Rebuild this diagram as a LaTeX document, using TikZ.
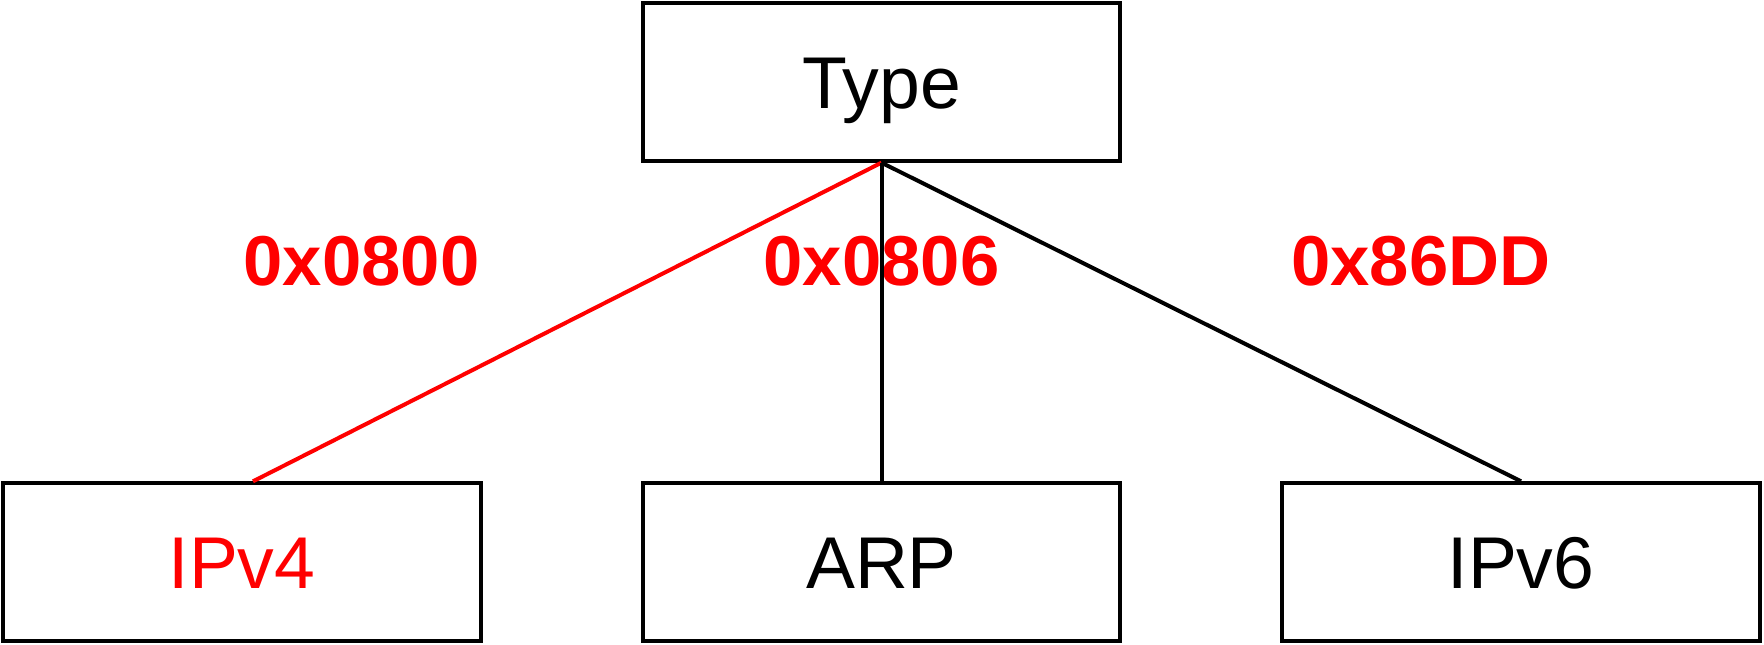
\documentclass[tikz,border=0pt]{standalone}
\usepackage{fontspec}
\setmainfont{Liberation Sans}
\usetikzlibrary{calc}
\definecolor{hexred}{HTML}{FF0000}

\tikzset{
  box/.style={draw=black,line width=3pt,minimum width=358pt,minimum height=118pt,
              inner sep=0pt,text height=39.4pt,text depth=0pt,
              font=\fontsize{55}{66}\selectfont},
  hexlabel/.style={anchor=base,text=hexred,font=\fontsize{53}{64}\selectfont\bfseries},
  link/.style={line width=3pt}
}

\begin{document}
\begin{tikzpicture}[x=0.75pt,y=0.75pt]
  \useasboundingbox (0,0) rectangle (1764,644);

  % Boxes
  \node[box] (type) at (881.5,562) {Type};
  \node[box,text=hexred] (ipv4) at (242,82) {IPv4};
  \node[box] (arp) at (881.5,82) {ARP};
  \node[box] (ipv6) at (1521,82) {IPv6};

  % Type values
  \node[hexlabel] (lblipv4) at (361.5,359) {0x0800};
  \node[hexlabel] (lblarp) at (881.5,359) {0x0806};
  \node[hexlabel] (lblipv6) at (1421,359) {0x86DD};

  % Links
  \draw[link,hexred] (type.south) -- ($(ipv4.north)+(11,0)$);
  \draw[link] (type.south) -- (arp.north);
  \draw[link] (type.south) -- (ipv6.north);
\end{tikzpicture}
\end{document}
